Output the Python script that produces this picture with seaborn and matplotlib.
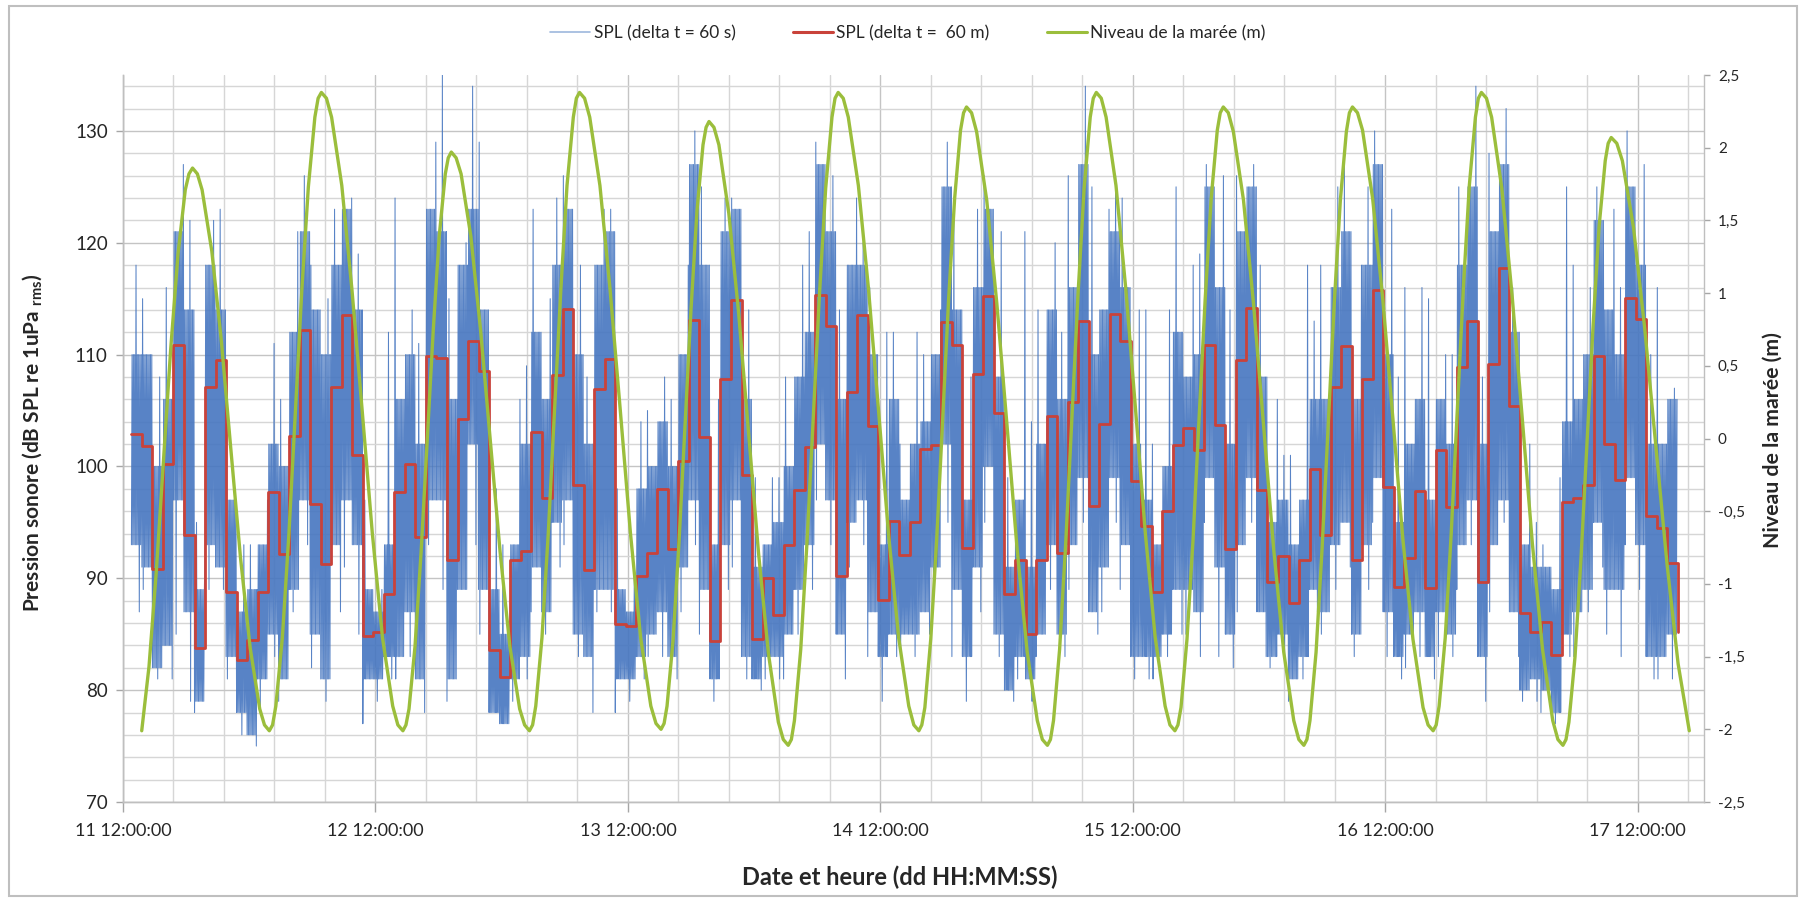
import numpy as np
import seaborn as sns
import matplotlib.pyplot as plt
from matplotlib.ticker import FixedLocator, MultipleLocator
from matplotlib.lines import Line2D
from matplotlib.patches import Rectangle

# time axis: hours since "11 12:00:00"
t_start_spl = 0.8      # first hourly block of the SPL series

# SPL hourly mean (delta t = 60 m), dB re 1uPa rms
spl_60m = [102.9, 101.8, 90.8, 100.2, 110.9, 93.9, 83.8, 107.1, 109.5, 88.8, 82.7, 84.5,
           88.8, 97.7, 92.2, 102.7, 112.2, 96.6, 91.3, 107.1, 113.5, 101.0, 84.8, 85.2,
           88.6, 97.7, 100.2, 93.7, 109.9, 109.7, 91.6, 104.2, 111.2, 108.5, 83.6, 81.2,
           91.6, 92.4, 103.1, 97.2, 108.2, 114.1, 98.3, 90.7, 106.9, 109.6, 85.9, 85.7,
           90.2, 92.3, 98.0, 92.6, 100.5, 113.1, 102.6, 84.4, 107.8, 114.9, 99.2, 84.6,
           90.0, 86.7, 93.0, 97.9, 101.7, 115.3, 112.6, 90.2, 106.7, 113.5, 103.6, 88.1,
           95.1, 92.1, 95.0, 101.6, 101.9, 112.9, 110.9, 92.7, 108.3, 115.2, 104.8, 88.6,
           91.6, 85.0, 91.6, 104.5, 92.3, 105.8, 113.0, 96.5, 103.8, 113.6, 111.2, 98.7,
           94.7, 88.8, 96.0, 101.9, 103.4, 101.5, 110.9, 103.7, 92.6, 109.5, 114.2, 97.9,
           89.7, 92.0, 87.8, 91.6, 99.8, 93.9, 107.1, 110.8, 91.6, 107.8, 115.8, 98.2,
           89.2, 91.8, 97.8, 89.1, 101.5, 96.4, 108.9, 113.0, 89.7, 109.2, 117.7, 105.4,
           86.9, 85.2, 86.1, 83.1, 96.8, 97.2, 98.3, 109.9, 102.0, 98.8, 115.1, 113.2,
           95.6, 94.5, 91.4, 85.2]

# SPL 60 s trace, read per hour: dense band (lo/hi) and extreme spikes (bot/top)
spl_lo = [93, 91, 82, 84, 97, 87, 79, 93, 91, 83, 78, 76, 81, 85, 81, 89, 97, 85, 81, 93, 97, 93, 81, 81,
          83, 83, 87, 81, 97, 97, 81, 89, 102, 89, 78, 77, 81, 83, 91, 87, 95, 97, 85, 83, 89, 89, 81, 81,
          83, 85, 87, 83, 91, 97, 89, 81, 93, 97, 83, 81, 83, 83, 85, 89, 93, 102, 97, 85, 95, 97, 87, 83,
          85, 85, 85, 87, 91, 102, 89, 83, 91, 100, 85, 80, 83, 81, 85, 93, 85, 93, 99, 87, 91, 99, 93, 83, 83,
          83, 85, 89, 89, 87, 99, 91, 85, 93, 99, 87, 83, 85, 81, 83, 89, 87, 93, 95, 85, 93, 99, 87, 83, 85,
          87, 83, 87, 85, 93, 97, 83, 93, 97, 87, 80, 81, 80, 78, 85, 87, 89, 95, 89, 89, 99, 93, 83, 83, 85]
spl_hi = [110, 110, 100, 106, 121, 114, 89, 118, 114, 97, 87, 89, 93, 102, 100, 112, 121, 114, 110, 118, 123, 114, 89, 87,
          93, 106, 110, 102, 123, 121, 106, 118, 123, 114, 89, 85, 93, 102, 112, 106, 118, 123, 110, 102, 118, 121, 89, 87,
          98, 100, 104, 100, 110, 127, 118, 93, 121, 123, 106, 91, 93, 95, 100, 108, 112, 127, 121, 106, 118, 118, 110, 93,
          106, 97, 102, 104, 110, 125, 114, 97, 116, 123, 108, 91, 97, 91, 102, 114, 106, 116, 127, 110, 114, 121, 116, 102, 97,
          93, 100, 112, 108, 110, 125, 116, 102, 121, 125, 108, 95, 97, 93, 97, 106, 106, 116, 121, 106, 118, 127, 110, 95, 102,
          106, 97, 106, 102, 118, 125, 102, 121, 127, 112, 93, 91, 91, 89, 104, 106, 110, 122, 114, 110, 125, 118, 102, 102, 106]
spl_top = [118, 115, 108, 116, 127, 122, 95, 122, 123, 106, 93, 93, 97, 111, 106, 121, 126, 118, 115, 123, 124, 119, 97, 89,
           112, 124, 114, 111, 129, 135, 115, 120, 134, 129, 98, 93, 106, 109, 123, 115, 124, 126, 118, 108, 123, 123, 98, 91,
           104, 105, 108, 106, 118, 130, 125, 106, 124, 124, 114, 99, 99, 99, 108, 118, 121, 129, 126, 114, 124, 120, 116, 112,
           112, 102, 112, 110, 114, 129, 123, 108, 123, 126, 121, 99, 121, 104, 114, 120, 112, 126, 134, 125, 123, 126, 124, 114, 114,
           102, 114, 125, 118, 119, 127, 126, 114, 126, 127, 118, 106, 101, 101, 118, 113, 118, 125, 127, 118, 125, 130, 123, 108, 116,
           116, 115, 110, 110, 125, 134, 108, 128, 132, 116, 102, 95, 93, 99, 125, 118, 116, 125, 123, 116, 130, 127, 110, 116, 107]
spl_bot = [87, 89, 81, 81, 85, 79, 78, 89, 89, 81, 76, 75, 78, 83, 79, 87, 93, 82, 79, 87, 91, 85, 77, 79,
           81, 81, 83, 78, 93, 89, 79, 89, 93, 85, 78, 77, 79, 81, 87, 85, 91, 93, 83, 78, 87, 87, 78, 79,
           81, 83, 83, 81, 87, 93, 85, 79, 89, 91, 81, 80, 81, 81, 81, 85, 89, 97, 93, 81, 91, 93, 83, 79,
           83, 83, 83, 85, 89, 95, 83, 79, 87, 95, 83, 79, 81, 79, 83, 89, 83, 89, 95, 85, 87, 95, 89, 81, 81,
           81, 83, 85, 85, 83, 95, 83, 82, 87, 95, 83, 82, 83, 79, 81, 87, 85, 89, 91, 83, 89, 95, 83, 81, 82,
           83, 81, 83, 83, 89, 93, 79, 87, 95, 83, 79, 79, 78, 77, 83, 83, 87, 91, 85, 83, 93, 89, 81, 81, 81]

# tide level (m) (one row per rising / falling limb)
tide_t = [1.78, 2.47, 3.16, 3.85, 4.54, 5.23, 5.92, 6.27, 6.61,
          7.07, 7.52, 8.44, 9.35, 10.26, 11.17, 12.09, 13.00, 13.45, 13.91,
          14.22, 14.53, 15.15, 15.77, 16.39, 17.00, 17.62, 18.24, 18.55, 18.86,
          19.34, 19.83, 20.80, 21.77, 22.74, 23.70, 24.67, 25.64, 26.13, 26.61,
          26.90, 27.19, 27.76, 28.34, 28.91, 29.49, 30.06, 30.64, 30.92, 31.21,
          31.67, 32.14, 33.07, 34.00, 34.93, 35.85, 36.78, 37.71, 38.18, 38.64,
          38.94, 39.24, 39.83, 40.43, 41.02, 41.62, 42.21, 42.81, 43.10, 43.40,
          43.88, 44.37, 45.34, 46.31, 47.28, 48.24, 49.21, 50.18, 50.67, 51.15,
          51.44, 51.72, 52.29, 52.86, 53.43, 54.00, 54.57, 55.14, 55.43, 55.71,
          56.18, 56.65, 57.59, 58.53, 59.47, 60.42, 61.36, 62.30, 62.77, 63.24,
          63.54, 63.83, 64.43, 65.02, 65.62, 66.21, 66.80, 67.40, 67.69, 67.99,
          68.47, 68.95, 69.91, 70.87, 71.83, 72.78, 73.74, 74.70, 75.18, 75.66,
          75.94, 76.23, 76.79, 77.36, 77.93, 78.49, 79.06, 79.62, 79.91, 80.19,
          80.67, 81.15, 82.11, 83.07, 84.04, 85.00, 85.96, 86.92, 87.40, 87.88,
          88.17, 88.46, 89.04, 89.62, 90.21, 90.79, 91.37, 91.95, 92.24, 92.53,
          93.00, 93.46, 94.40, 95.33, 96.27, 97.20, 98.13, 99.07, 99.53, 100.00,
          100.29, 100.58, 101.15, 101.73, 102.30, 102.88, 103.45, 104.03, 104.31, 104.60,
          105.08, 105.56, 106.52, 107.47, 108.43, 109.39, 110.35, 111.30, 111.78, 112.26,
          112.55, 112.84, 113.42, 113.99, 114.57, 115.15, 115.73, 116.30, 116.59, 116.88,
          117.36, 117.84, 118.80, 119.76, 120.72, 121.67, 122.63, 123.59, 124.07, 124.55,
          124.84, 125.12, 125.70, 126.27, 126.85, 127.42, 127.99, 128.57, 128.85, 129.14,
          129.62, 130.11, 131.08, 132.05, 133.02, 133.98, 134.95, 135.92, 136.41, 136.89,
          137.18, 137.46, 138.04, 138.61, 139.19, 139.76, 140.33, 140.91, 141.19, 141.48,
          142.01, 142.54, 143.60, 144.66, 145.72, 146.78, 147.84, 148.90]
tide_m = [-2.01, -1.57, -0.92, -0.15, 0.62, 1.27, 1.71, 1.82, 1.86,
          1.82, 1.71, 1.29, 0.67, -0.08, -0.82, -1.44, -1.86, -1.97, -2.01,
          -1.97, -1.84, -1.37, -0.66, 0.18, 1.02, 1.73, 2.21, 2.34, 2.38,
          2.34, 2.21, 1.74, 1.02, 0.19, -0.65, -1.37, -1.84, -1.97, -2.01,
          -1.97, -1.86, -1.43, -0.78, -0.02, 0.74, 1.39, 1.82, 1.93, 1.97,
          1.93, 1.82, 1.39, 0.74, -0.02, -0.78, -1.43, -1.86, -1.97, -2.01,
          -1.97, -1.84, -1.37, -0.65, 0.19, 1.02, 1.74, 2.21, 2.34, 2.38,
          2.34, 2.21, 1.74, 1.02, 0.19, -0.65, -1.37, -1.84, -1.96, -2.00,
          -1.96, -1.84, -1.39, -0.71, 0.09, 0.89, 1.57, 2.02, 2.14, 2.18,
          2.14, 2.02, 1.55, 0.86, 0.04, -0.79, -1.48, -1.95, -2.07, -2.11,
          -2.07, -1.94, -1.45, -0.72, 0.14, 0.99, 1.72, 2.21, 2.34, 2.38,
          2.34, 2.21, 1.74, 1.03, 0.19, -0.66, -1.37, -1.84, -1.97, -2.01,
          -1.97, -1.85, -1.38, -0.69, 0.14, 0.96, 1.65, 2.12, 2.24, 2.28,
          2.24, 2.11, 1.64, 0.93, 0.09, -0.76, -1.47, -1.94, -2.07, -2.11,
          -2.07, -1.94, -1.45, -0.72, 0.14, 0.99, 1.72, 2.21, 2.34, 2.38,
          2.34, 2.21, 1.74, 1.03, 0.19, -0.66, -1.37, -1.84, -1.97, -2.01,
          -1.97, -1.85, -1.38, -0.69, 0.14, 0.96, 1.65, 2.12, 2.24, 2.28,
          2.24, 2.11, 1.64, 0.93, 0.09, -0.76, -1.47, -1.94, -2.07, -2.11,
          -2.07, -1.94, -1.47, -0.76, 0.09, 0.93, 1.64, 2.11, 2.24, 2.28,
          2.24, 2.12, 1.65, 0.96, 0.14, -0.69, -1.38, -1.85, -1.97, -2.01,
          -1.97, -1.84, -1.37, -0.65, 0.19, 1.03, 1.74, 2.21, 2.34, 2.38,
          2.34, 2.21, 1.72, 0.99, 0.14, -0.72, -1.45, -1.94, -2.07, -2.11,
          -2.07, -1.95, -1.50, -0.82, -0.02, 0.78, 1.46, 1.91, 2.03, 2.07,
          2.03, 1.91, 1.45, 0.76, -0.05, -0.86, -1.55, -2.01]

day_ticks = [0, 24, 48, 72, 96, 120, 144]
day_labels = ['11 12:00:00', '12 12:00:00', '13 12:00:00', '14 12:00:00',
              '15 12:00:00', '16 12:00:00', '17 12:00:00']
tide_ticks = [-2.5, -2, -1.5, -1, -0.5, 0, 0.5, 1, 1.5, 2, 2.5]
tide_labels = ['-2,5', '-2', '-1,5', '-1', '-0,5', '0', '0,5', '1', '1,5', '2', '2,5']

c_blue = '#4676C0'
c_red = '#C9423A'
c_green = '#9BBE3C'
c_grid = '#D6D6D6'
c_text = '#262626'

sns.set_theme(style='white')
plt.rcParams['font.family'] = ['Lato', 'DejaVu Sans']
plt.rcParams['mathtext.fontset'] = 'custom'
plt.rcParams['mathtext.rm'] = 'Lato'

fig = plt.figure(figsize=(18.05, 8.99), dpi=100)
ax = fig.add_axes([123/1805, 97/899, 1581/1805, 727/899])
ax2 = ax.twinx()

# the 60 s trace: dense zig-zag through each hourly band, with one high and one low spike
n_sub = 16
bt, bv = [], []
for k in range(len(spl_lo)):
    seq = [spl_lo[k] if j % 2 == 0 else spl_hi[k] for j in range(n_sub)]
    seq[(5 * k + 3) % 8 * 2 + 1] = spl_top[k]
    seq[(3 * k + 6) % 8 * 2] = spl_bot[k]
    for j, v in enumerate(seq):
        bt.append(t_start_spl + k + j / n_sub)
        bv.append(v)

sns.lineplot(x=bt, y=bv, ax=ax, color=c_blue, lw=0.75, alpha=0.9, sort=False,
             estimator=None, zorder=2)

red_t = [t_start_spl + k for k in range(len(spl_60m))]
sns.lineplot(x=red_t, y=spl_60m, ax=ax, color=c_red, lw=2.0, drawstyle='steps-post',
             sort=False, estimator=None, zorder=3)

sns.lineplot(x=tide_t, y=tide_m, ax=ax2, color=c_green, lw=2.4, sort=False, estimator=None)

# axes limits and ticks
ax.set_xlim(0, 150.3)
ax.set_ylim(70, 135)
ax2.set_ylim(-2.5, 2.5)

ax.set_xticks(day_ticks)
ax.set_xticklabels(day_labels, fontsize=13, color=c_text)
ax.xaxis.set_minor_locator(FixedLocator([4.8 * i for i in range(32)]))
ax.set_yticks(np.arange(70, 131, 10))
ax.set_yticklabels([str(v) for v in range(70, 131, 10)], fontsize=13.5, color=c_text)
ax.yaxis.set_minor_locator(MultipleLocator(2))
ax2.set_yticks(tide_ticks)
ax2.set_yticklabels(tide_labels, fontsize=11, color=c_text)

ax.tick_params(axis='x', which='major', length=7, width=1, color='#A6A6A6', pad=8, bottom=True)
ax.tick_params(axis='x', which='minor', length=0)
ax.tick_params(axis='y', which='major', length=5, width=1, color='#A6A6A6', pad=6, left=True)
ax.tick_params(axis='y', which='minor', length=0)
ax2.tick_params(axis='y', length=4, width=1, color='#A6A6A6', pad=6, right=True)

ax.grid(True, which='major', color='#C4C4C4', lw=1.0)
ax.grid(True, which='minor', color=c_grid, lw=1.0)
ax.set_axisbelow(True)
ax.set_xlabel('')
ax.set_ylabel('')
ax2.set_ylabel('')

for a in (ax, ax2):
    a.spines['top'].set_visible(False)
    for s in ('left', 'right', 'bottom'):
        a.spines[s].set_color('#BFBFBF')
        a.spines[s].set_linewidth(1.0)
ax.spines['right'].set_visible(False)

# axis titles
fig.text(0.4987, 1 - 877/899, 'Date et heure (dd HH:MM:SS)', ha='center', va='center',
         fontsize=17, fontweight='bold', color=c_text)
fig.text(33/1805, 1 - 443/899, r'Pression sonore (dB SPL re 1uPa $_{\mathregular{rms}}$)',
         ha='center', va='center', rotation=90, fontsize=15, fontweight='bold', color=c_text)
fig.text(1773/1805, 1 - 440/899, 'Niveau de la marée (m)', ha='center', va='center',
         rotation=90, fontsize=15.3, fontweight='bold', color=c_text)

# legend on top
handles = [Line2D([], [], color='#9DB7DD', lw=1.2),
           Line2D([], [], color=c_red, lw=2.2),
           Line2D([], [], color=c_green, lw=2.2)]
labels = ['SPL (delta t = 60 s)', 'SPL (delta t =  60 m)', 'Niveau de la marée (m)']
fig.legend(handles, labels, loc='center', bbox_to_anchor=(0.503, 1 - 33/899), ncol=3,
           frameon=False, fontsize=12.5, handlelength=2.3, handletextpad=0.2, columnspacing=3.3,
           labelcolor=c_text)

# outer chart border
fig.patches.append(Rectangle((9/1805, 3/899), 1788/1805, 890/899, transform=fig.transFigure,
                             fill=False, edgecolor='#BFBFBF', lw=1.5))

fig.savefig('out.png', dpi=100)
